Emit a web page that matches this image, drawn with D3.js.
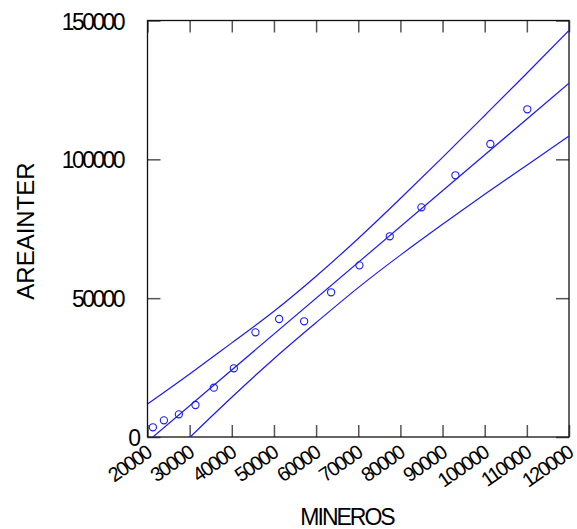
<!DOCTYPE html>
<html>
<head>
<meta charset="utf-8">
<script src="https://cdn.jsdelivr.net/npm/d3@7"></script>
<style>
  html, body { margin: 0; padding: 0; background: #fff; }
  text { font-family: "Liberation Sans", Arial, sans-serif; fill: #000; }
</style>
</head>
<body>
<svg id="chart" width="577" height="529"></svg>
<script>
// ---- data ----
const minerosX = [21280, 23890, 27440, 31380, 35740, 40490, 45610, 51230, 57160, 63560, 70280, 77480, 84990, 93050, 101340, 110110];
const areaInterY = [3490, 6010, 8170, 11520, 17760, 24740, 37700, 42500, 41670, 52110, 61820, 72280, 82720, 94250, 105520, 118020];

const fitX = [20000, 120000];
const fitY = [-1650, 127400];

const bandX = [20000, 30000, 40000, 50000, 60000, 70000, 80000, 90000, 100000, 110000, 120000];
const bandUpper = [11880, 22700, 33900, 45300, 57900, 71500, 85900, 100700, 115800, 131000, 146400];
const bandLower = [-15200, -200, 14300, 28200, 41200, 53800, 65500, 76600, 87400, 97900, 108400];

const xTicks = [20000, 30000, 40000, 50000, 60000, 70000, 80000, 90000, 100000, 110000, 120000];
const yTicks = [0, 50000, 100000, 150000];

const xTitle = "MINEROS";
const yTitle = "AREAINTER";

// ---- layout ----
const L = 147.5, R = 569, T = 20.5, B = 437;
const svg = d3.select("#chart");

const x = d3.scaleLinear().domain([20000, 120000]).range([L, R]);
const y = d3.scaleLinear().domain([0, 150000]).range([B, T]);

svg.append("defs").append("clipPath").attr("id", "plotclip")
  .append("rect").attr("x", L).attr("y", T).attr("width", R - L).attr("height", B - T);

// ticks (inward on all sides)
const tickStyle = g => {
  g.select(".domain").remove();
  g.selectAll(".tick line").attr("stroke", "#555").attr("stroke-width", 1.5);
  g.selectAll(".tick text").remove();
};
svg.append("g").attr("transform", `translate(0,${B})`)
  .call(d3.axisBottom(x).tickValues(xTicks).tickSizeInner(-12).tickSizeOuter(0)).call(tickStyle);
svg.append("g").attr("transform", `translate(0,${T})`)
  .call(d3.axisTop(x).tickValues(xTicks).tickSizeInner(-12).tickSizeOuter(0)).call(tickStyle);
svg.append("g").attr("transform", `translate(${L},0)`)
  .call(d3.axisLeft(y).tickValues(yTicks).tickSizeInner(-13).tickSizeOuter(0)).call(tickStyle);
svg.append("g").attr("transform", `translate(${R},0)`)
  .call(d3.axisRight(y).tickValues(yTicks).tickSizeInner(-13).tickSizeOuter(0)).call(tickStyle);

// frame
svg.append("rect").attr("x", L).attr("y", T).attr("width", R - L).attr("height", B - T)
  .attr("fill", "none").attr("stroke", "#111").attr("stroke-width", 1.3);

// x tick labels (rotated)
svg.append("g").selectAll("text").data(xTicks).join("text")
  .attr("transform", d => `translate(${x(d) + 5},${B + 19}) rotate(-35)`)
  .attr("text-anchor", "end")
  .style("font-size", "20px")
  .style("letter-spacing", "-1.8px")
  .text(d => d);

// y tick labels
svg.append("g").selectAll("text").data(yTicks).join("text")
  .attr("x", d => d === 0 ? 141 : 123)
  .attr("y", d => y(d) + 9)
  .attr("text-anchor", "end")
  .style("font-size", "23px")
  .style("letter-spacing", d => d === 0 ? "0px" : "-2.6px")
  .text(d => d);

// titles
svg.append("text")
  .attr("x", 347).attr("y", 525)
  .attr("text-anchor", "middle")
  .style("font-size", "23px")
  .style("letter-spacing", "-2px")
  .text(xTitle);
svg.append("text")
  .attr("transform", "translate(33.5,231) rotate(-90)")
  .attr("text-anchor", "middle")
  .style("font-size", "24px")
  .text(yTitle);

// lines
const plot = svg.append("g").attr("clip-path", "url(#plotclip)");
const lineBlue = "#1c1cf0";
const bandLine = vals => d3.line().curve(d3.curveNatural)
  .x((d, i) => x(bandX[i])).y(d => y(d))(vals);
plot.append("path").attr("d", bandLine(bandUpper))
  .attr("fill", "none").attr("stroke", lineBlue).attr("stroke-width", 1.2);
plot.append("path").attr("d", bandLine(bandLower))
  .attr("fill", "none").attr("stroke", lineBlue).attr("stroke-width", 1.2);
plot.append("path")
  .attr("d", d3.line().x((d, i) => x(fitX[i])).y(d => y(d))(fitY))
  .attr("fill", "none").attr("stroke", lineBlue).attr("stroke-width", 1.2);

// points
plot.append("g").selectAll("circle").data(minerosX).join("circle")
  .attr("cx", d => x(d))
  .attr("cy", (d, i) => y(areaInterY[i]))
  .attr("r", 3.6)
  .attr("fill", "none")
  .attr("stroke", lineBlue)
  .attr("stroke-width", 1.1);
</script>
</body>
</html>
